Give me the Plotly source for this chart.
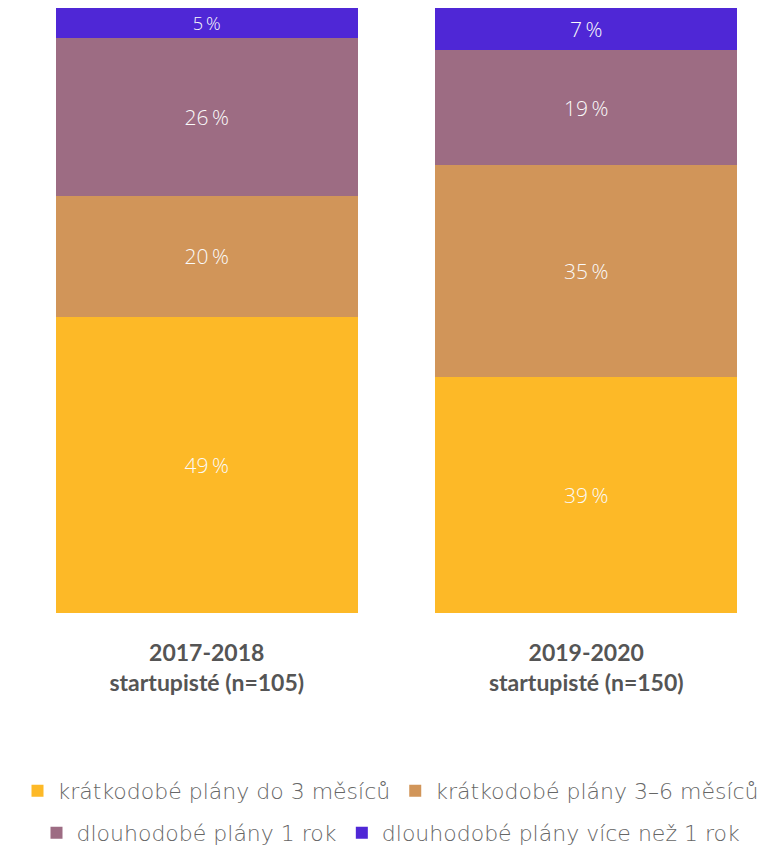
import plotly.graph_objects as go

# Survey periods (x categories)
periods = [
    "<b>2017-2018<br>startupisté (n=105)</b>",
    "<b>2019-2020<br>startupisté (n=150)</b>",
]

# Share of respondents per planning horizon (%)
series_names = [
    "krátkodobé plány do 3 měsíců",
    "krátkodobé plány 3–6 měsíců",
    "dlouhodobé plány 1 rok",
    "dlouhodobé plány více než 1 rok",
]
short_3m = [49, 39]
short_3_6m = [20, 35]
long_1y = [26, 19]
long_over_1y = [5, 7]

series_values = [short_3m, short_3_6m, long_1y, long_over_1y]
colors = ["#FDB927", "#D19559", "#9D6C83", "#4F27D6"]
legend_ids = ["legend", "legend", "legend2", "legend2"]

fig = go.Figure()
for name, vals, color, lg in zip(series_names, series_values, colors, legend_ids):
    fig.add_trace(
        go.Bar(
            x=periods,
            y=vals,
            name=name,
            marker=dict(color=color, line=dict(width=0)),
            text=[f"{v}\u2009%" for v in vals],
            textposition="inside",
            insidetextanchor="middle",
            textangle=0,
            textfont=dict(family="Open Sans", size=21, weight=300, color="#FAFAFA"),
            hoverinfo="skip",
            legend=lg,
        )
    )

legend_common = dict(
    orientation="h",
    xanchor="center",
    x=0.5,
    xref="container",
    yref="container",
    yanchor="middle",
    traceorder="normal",
    font=dict(family="DejaVu Sans", size=22, weight=300, color="#666666"),
    bgcolor="rgba(0,0,0,0)",
    itemclick=False,
    itemdoubleclick=False,
    tracegroupgap=0,
)

fig.update_layout(
    width=782,
    height=848,
    barmode="stack",
    bargap=0.204,
    plot_bgcolor="white",
    paper_bgcolor="white",
    margin=dict(l=17, r=6, t=8, b=235, autoexpand=False),
    showlegend=True,
    legend=dict(**legend_common, y=1 - 791 / 848),
    legend2=dict(**legend_common, y=1 - 833 / 848),
    xaxis=dict(
        showgrid=False,
        showline=False,
        zeroline=False,
        ticks="",
        ticklabelstandoff=24,
        tickfont=dict(family="Lato", size=23, color="#555555"),
    ),
    yaxis=dict(
        range=[0, 100],
        visible=False,
        showgrid=False,
        zeroline=False,
    ),
)

fig.write_html("out.html")
